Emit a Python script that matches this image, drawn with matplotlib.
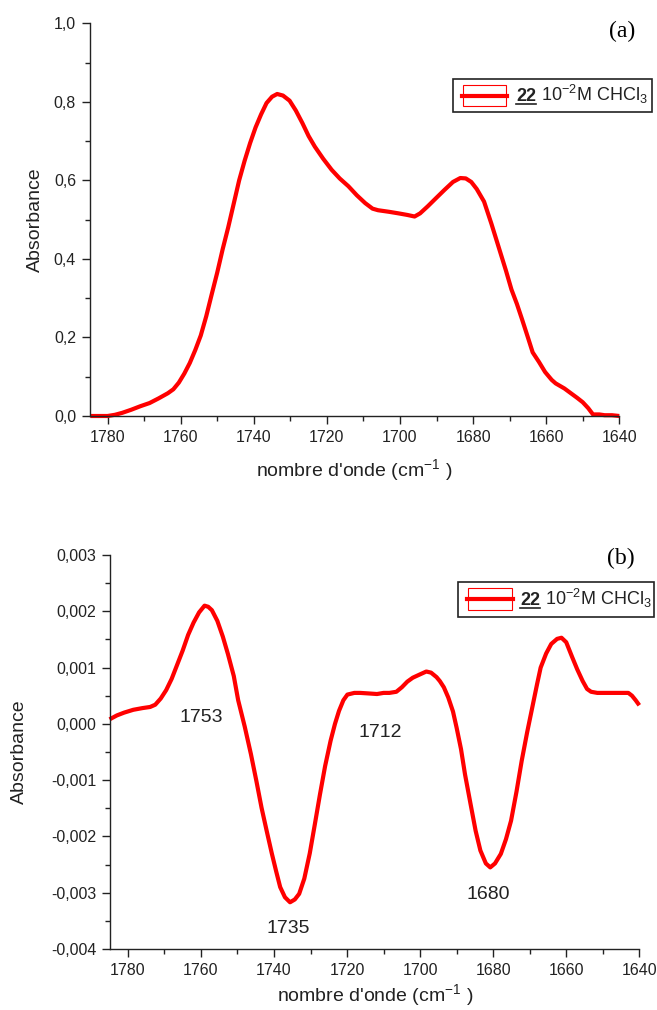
import matplotlib
matplotlib.use("Agg")
import matplotlib.pyplot as plt
from matplotlib.patches import Rectangle
from matplotlib.lines import Line2D

plt.rcParams['font.family'] = ['Liberation Sans', 'DejaVu Sans']
plt.rcParams['mathtext.fontset'] = 'custom'
plt.rcParams['mathtext.rm'] = 'Liberation Sans'
plt.rcParams['mathtext.it'] = 'Liberation Sans:italic'
plt.rcParams['mathtext.bf'] = 'Liberation Sans:bold'

# ---------------- data (a) ----------------
wave_a = [1784.7, 1782, 1780, 1778, 1776, 1773.5, 1771, 1768.5, 1766, 1763.5, 1762,
          1760.5, 1759, 1757.5, 1756, 1754.5, 1753, 1751.5, 1750, 1748.5, 1747,
          1745.5, 1744, 1742.5, 1741, 1739.5, 1738, 1736.5, 1735, 1733.6, 1732,
          1730.2, 1728.5, 1726.7, 1725, 1723.3, 1721, 1718.7, 1716.5, 1714.1,
          1711.8, 1709.5, 1707.5, 1706, 1703, 1700.4, 1698, 1696, 1694.5, 1692.4,
          1690, 1687.8, 1685.5, 1683.5, 1682, 1680.5, 1679, 1677, 1675, 1673,
          1671, 1669.5, 1668, 1666.6, 1665, 1663.7, 1662, 1660.3, 1658.5, 1657.4,
          1655, 1653.4, 1651.5, 1650, 1648.5, 1647.2, 1645.5, 1644, 1642, 1640]
abs_a = [0.0, 0.0, 0.0, 0.003, 0.008, 0.016, 0.025, 0.033, 0.045, 0.058, 0.068,
         0.085, 0.108, 0.135, 0.168, 0.205, 0.254, 0.31, 0.365, 0.425, 0.48,
         0.54, 0.6, 0.65, 0.695, 0.735, 0.768, 0.797, 0.813, 0.820, 0.816,
         0.803, 0.778, 0.746, 0.713, 0.686, 0.655, 0.627, 0.605, 0.585,
         0.562, 0.542, 0.528, 0.524, 0.52, 0.516, 0.512, 0.508, 0.516, 0.534,
         0.556, 0.576, 0.596, 0.606, 0.605, 0.596, 0.578, 0.546, 0.49, 0.43,
         0.37, 0.322, 0.285, 0.246, 0.2, 0.162, 0.138, 0.112, 0.092, 0.083,
         0.07, 0.059, 0.046, 0.035, 0.02, 0.004, 0.004, 0.002, 0.002, 0.0]

# ---------------- data (b) ----------------
wave_b = [1785, 1783, 1781, 1778.5, 1776, 1773.9, 1772.5, 1771, 1769.5, 1768,
          1766.5, 1765, 1763.5, 1762, 1760.5, 1759, 1758, 1757, 1755.5, 1754,
          1752.6, 1751, 1749.8, 1748, 1746.3, 1744.8, 1743.4, 1742, 1740.6,
          1739.4, 1738.3, 1737, 1735.6, 1734.3, 1733.1, 1731.7, 1730.2, 1728.8,
          1727.4, 1726, 1724.5, 1723.3, 1722.2, 1721, 1719.9, 1718, 1716.4,
          1714, 1711.8, 1710, 1708.4, 1706.5, 1705, 1703.5, 1702, 1700, 1698.3,
          1697, 1695.5, 1694.6, 1693.5, 1692.3, 1691, 1690, 1688.8, 1687.7,
          1686.2, 1684.8, 1683.5, 1682, 1680.8, 1679.5, 1677.9, 1676.5, 1675.1,
          1673.6, 1672.2, 1670.7, 1669.3, 1668, 1667, 1665.5, 1664.1, 1662.5,
          1661.3, 1660, 1658.4, 1657, 1655.5, 1654.3, 1653.2, 1651.5, 1649.8,
          1646, 1643, 1642, 1641, 1640]
abs_b_milli = [0.08, 0.15, 0.20, 0.25, 0.28, 0.30, 0.34, 0.45, 0.60, 0.80,
               1.05, 1.30, 1.58, 1.80, 1.98, 2.10, 2.08, 2.02, 1.83, 1.55,
               1.24, 0.85, 0.42, -0.05, -0.54, -1.02, -1.49, -1.90, -2.30,
               -2.62, -2.90, -3.08, -3.17, -3.12, -3.02, -2.75, -2.30, -1.78,
               -1.25, -0.75, -0.30, 0.00, 0.23, 0.42, 0.52, 0.55, 0.55,
               0.54, 0.53, 0.55, 0.55, 0.57, 0.65, 0.75, 0.82, 0.88, 0.93,
               0.91, 0.83, 0.76, 0.65, 0.47, 0.22, -0.07, -0.45, -0.90,
               -1.42, -1.90, -2.25, -2.48, -2.55, -2.48, -2.31, -2.05, -1.72,
               -1.20, -0.66, -0.15, 0.29, 0.70, 1.00, 1.25, 1.42, 1.51,
               1.53, 1.45, 1.19, 0.97, 0.76, 0.62, 0.57, 0.55, 0.55,
               0.55, 0.55, 0.50, 0.42, 0.33]
abs_b = [v * 1e-3 for v in abs_b_milli]

peak_labels = ["1753", "1735", "1712", "1680"]
peak_x = [1759.8, 1736.0, 1710.9, 1681.3]
peak_y = [0.00011, -0.00364, -0.00015, -0.00303]

xticks = [1780, 1760, 1740, 1720, 1700, 1680, 1660, 1640]
xticklabels = ["1780", "1760", "1740", "1720", "1700", "1680", "1660", "1640"]
yticks_a = [0.0, 0.2, 0.4, 0.6, 0.8, 1.0]
yticklabels_a = ["0,0", "0,2", "0,4", "0,6", "0,8", "1,0"]
yticks_b = [-0.004, -0.003, -0.002, -0.001, 0.0, 0.001, 0.002, 0.003]
yticklabels_b = ["-0,004", "-0,003", "-0,002", "-0,001", "0,000", "0,001", "0,002", "0,003"]

W, H = 657, 1010
fig = plt.figure(figsize=(W / 100, H / 100), dpi=100)


def fx(px):
    return px / W


def fy(py):
    return 1 - py / H


def make_axes(left, right, top, bottom):
    return fig.add_axes([fx(left), fy(bottom), (right - left) / W, (bottom - top) / H])


ax1 = make_axes(90, 619.3, 23.3, 416)
ax2 = make_axes(110.3, 639.3, 555, 949)

ax1.plot(wave_a, abs_a, color='#ff0000', lw=3, clip_on=False, solid_capstyle='butt')
ax2.plot(wave_b, abs_b, color='#ff0000', lw=3, clip_on=False, solid_capstyle='butt')

for ax, yt, ytl, ylim, minor_step in [
        (ax1, yticks_a, yticklabels_a, (0, 1.0), 0.1),
        (ax2, yticks_b, yticklabels_b, (-0.004, 0.003), 0.0005)]:
    ax.set_xlim(1784.8, 1640)
    ax.set_ylim(*ylim)
    ax.set_xticks(xticks)
    ax.set_xticklabels(xticklabels)
    ax.set_xticks([1770, 1750, 1730, 1710, 1690, 1670, 1650], minor=True)
    ax.set_yticks(yt)
    ax.set_yticklabels(ytl)
    n = int(round((ylim[1] - ylim[0]) / minor_step))
    ax.set_yticks([ylim[0] + minor_step * (2 * i + 1) for i in range(n // 2)], minor=True)
    for s in ['top', 'right']:
        ax.spines[s].set_visible(False)
    for s in ['left', 'bottom']:
        ax.spines[s].set_linewidth(1.0)
        ax.spines[s].set_color('#222222')
    ax.tick_params(which='major', direction='out', length=6, width=1.0, labelsize=11.5,
                   color='#222222', labelcolor='#222222', pad=4)
    ax.tick_params(which='minor', direction='out', length=3.6, width=1.0, color='#222222')
    ax.set_xlabel("nombre d'onde (cm$^{-1}$ )", fontsize=14, color='#222222')
    ax.set_ylabel("Absorbance", fontsize=14, color='#222222')
    ax.xaxis.label.set_va('center')
    ax.yaxis.label.set_va('center')

ax1.xaxis.set_label_coords(0.5, (416 - 470) / 392.7)
ax1.yaxis.set_label_coords((35.6 - 90) / 529.3, 0.5)
ax2.xaxis.set_label_coords(0.5, (949 - 995) / 394)
ax2.yaxis.set_label_coords((19 - 110.3) / 529, 0.5)

for lab, x, y in zip(peak_labels, peak_x, peak_y):
    ax2.text(x, y, lab, ha='center', va='center', fontsize=14, color='#222222')

fig.text(fx(621.7), fy(31.7), "(a)", ha='center', va='center', fontsize=17,
         family=['Liberation Serif', 'DejaVu Serif'])
fig.text(fx(621), fy(558), "(b)", ha='center', va='center', fontsize=17,
         family=['Liberation Serif', 'DejaVu Serif'])

renderer = fig.canvas.get_renderer()


def legend(box, rect, line_y, text_x, base_y):
    x0, y0, x1, y1 = box
    fig.add_artist(Rectangle((fx(x0), fy(y1)), (x1 - x0) / W, (y1 - y0) / H,
                             transform=fig.transFigure, fill=False, ec='#222222', lw=1.2))
    rx0, ry0, rx1, ry1 = rect
    fig.add_artist(Rectangle((fx(rx0), fy(ry1)), (rx1 - rx0) / W, (ry1 - ry0) / H,
                             transform=fig.transFigure, fill=False, ec='#ff0000', lw=0.8))
    fig.add_artist(Line2D([fx(rx0 - 1), fx(rx1 + 1)], [fy(line_y), fy(line_y)],
                          transform=fig.transFigure, color='#ff0000', lw=3))
    t1 = fig.text(fx(text_x), fy(base_y), "22", fontsize=13, fontweight='bold',
                  va='baseline', ha='left', color='#222222')
    bb = t1.get_window_extent(renderer)
    ul_y = fy(base_y) * H - 3
    fig.add_artist(Line2D([bb.x0 / W, bb.x1 / W], [ul_y / H, ul_y / H],
                          transform=fig.transFigure, color='#222222', lw=1.2))
    fig.text(bb.x1 / W, fy(base_y), " 10$^{-2}$M CHCl$_3$", fontsize=13,
             va='baseline', ha='left', color='#222222')


legend((452.7, 79, 651.7, 112), (462.7, 85, 506, 106), 95.5, 516, 101)
legend((457.7, 581.7, 653.7, 616.7), (467.7, 588.3, 511.7, 610), 599, 520, 605)

fig.savefig("out.png", dpi=100)
